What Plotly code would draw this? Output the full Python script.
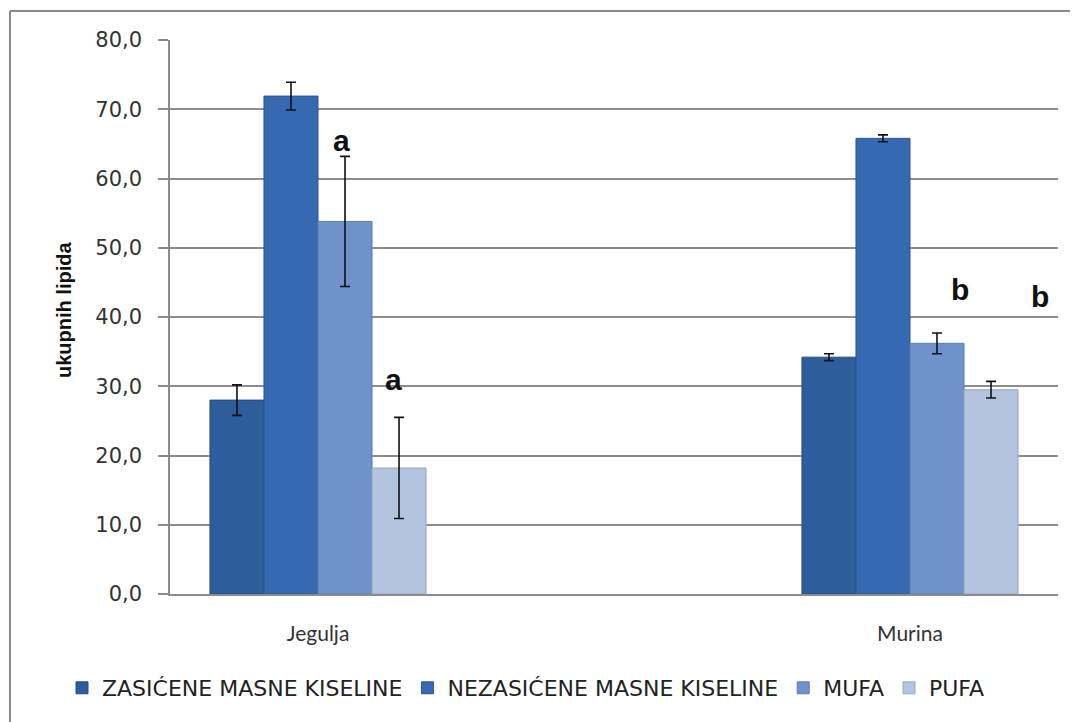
import plotly.graph_objects as go

categories = ["Jegulja", "Murina"]
cat_pos = [0, 1]
series_names = ["ZASIĆENE MASNE KISELINE", "NEZASIĆENE MASNE KISELINE", "MUFA", "PUFA"]
zmk = [28.0, 34.2]
zmk_err = [2.2, 0.5]
nmk = [71.9, 65.8]
nmk_err = [2.0, 0.5]
mufa = [53.8, 36.2]
mufa_err = [9.4, 1.5]
pufa = [18.2, 29.5]
pufa_err = [7.3, 1.2]
y_ticks = [0, 10, 20, 30, 40, 50, 60, 70, 80]
y_tick_labels = ["0,0", "10,0", "20,0", "30,0", "40,0", "50,0", "60,0", "70,0", "80,0"]
letters = ["a", "a", "b", "b"]
letter_x = [0.04, 0.128, 1.084, 1.219]
letter_y = [65.5, 31.0, 44.0, 43.0]

values = [zmk, nmk, mufa, pufa]
errors = [zmk_err, nmk_err, mufa_err, pufa_err]
colors = ["#2D5D9A", "#3669B2", "#6E92C9", "#B4C4DF"]
lines = ["#244C80", "#2B5896", "#5A7DB3", "#95A8C8"]

fig = go.Figure()
for name, v, e, c, lc in zip(series_names, values, errors, colors, lines):
    fig.add_trace(go.Bar(
        x=cat_pos, y=v, name=name,
        marker=dict(color=c, line=dict(color=lc, width=1)),
        error_y=dict(type="data", array=e, visible=True, color="#111111", thickness=1.6, width=5),
    ))

for t, x, y in zip(letters, letter_x, letter_y):
    fig.add_annotation(x=x, y=y, text="<b>" + t + "</b>", showarrow=False,
                       font=dict(family="Liberation Sans, Arial", size=30, color="#111111"),
                       xref="x", yref="y")

# y-axis title as rotated annotation
fig.add_annotation(xref="paper", yref="paper", x=(64 - 170) / 888, y=(594 - 310) / 554,
                   xanchor="center", yanchor="middle", text="<b>ukupnih lipida</b>",
                   textangle=-90, showarrow=False,
                   font=dict(family="Liberation Sans, Arial", size=20, color="#111111"))

# outer border (left and top edges)
fig.add_shape(type="line", xref="paper", yref="paper", x0=-0.1802, y0=1.0523, x1=-0.1802, y1=-0.25,
              line=dict(color="#8a8a8a", width=2))
fig.add_shape(type="line", xref="paper", yref="paper", x0=-0.1802, y0=1.0523, x1=1.03, y1=1.0523,
              line=dict(color="#8a8a8a", width=2))

fig.update_layout(
    width=1070, height=714,
    margin=dict(l=162, r=20, t=32, b=128),
    paper_bgcolor="white", plot_bgcolor="white",
    barmode="group", bargap=0.635, bargroupgap=0,
    showlegend=True,
    legend=dict(orientation="h", xref="paper", yref="paper",
                x=(62 - 170) / 888, xanchor="left", y=(594 - 688) / 554, yanchor="middle",
                font=dict(family="DejaVu Sans", size=22, color="#222222"),
                itemwidth=30, traceorder="normal"),
    xaxis=dict(range=[-0.25, 1.25], tickvals=cat_pos, ticktext=categories,
               showgrid=False, zeroline=False, showline=True, linecolor="#8c8c8c", linewidth=1.5,
               ticks="", ticklabelstandoff=20,
               tickfont=dict(family="Lato", size=21, color="#333333")),
    yaxis=dict(range=[0, 80], tickvals=y_ticks, ticktext=y_tick_labels,
               showgrid=True, gridcolor="#8c8c8c", gridwidth=1.5,
               zeroline=False, showline=True, linecolor="#8c8c8c", linewidth=1.5,
               ticks="outside", ticklen=10, tickcolor="#8c8c8c", tickwidth=1.5,
               ticklabelstandoff=12,
               tickfont=dict(family="DejaVu Sans", size=21, color="#333333")),
)

fig.write_html("out.html")
